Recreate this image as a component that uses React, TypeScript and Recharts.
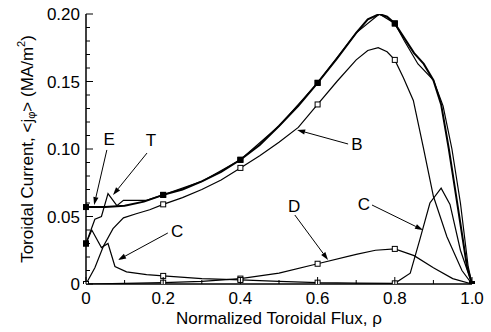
import React from "react";
import {
  LineChart,
  Line,
  XAxis,
  YAxis,
  ReferenceLine,
  ReferenceDot,
} from "recharts";

// normalized toroidal flux (rho) vs current density, one array per curve
const totalE = [
  { x: 0, y: 0.057 }, { x: 0.05, y: 0.057 }, { x: 0.1, y: 0.058 }, { x: 0.15, y: 0.061 },
  { x: 0.2, y: 0.066 }, { x: 0.25, y: 0.07 }, { x: 0.3, y: 0.076 }, { x: 0.35, y: 0.083 },
  { x: 0.4, y: 0.092 }, { x: 0.45, y: 0.103 }, { x: 0.5, y: 0.117 }, { x: 0.55, y: 0.132 },
  { x: 0.6, y: 0.149 }, { x: 0.65, y: 0.167 }, { x: 0.7, y: 0.186 }, { x: 0.73, y: 0.196 },
  { x: 0.76, y: 0.2 }, { x: 0.78, y: 0.198 }, { x: 0.8, y: 0.193 }, { x: 0.85, y: 0.171 },
  { x: 0.875, y: 0.163 }, { x: 0.9, y: 0.151 }, { x: 0.92, y: 0.133 }, { x: 0.94, y: 0.1 },
  { x: 0.96, y: 0.063 }, { x: 0.987, y: 0.013 }, { x: 1, y: 0 },
];

const totalT = [
  { x: 0, y: 0.03 }, { x: 0.023, y: 0.048 }, { x: 0.04, y: 0.05 }, { x: 0.057, y: 0.067 },
  { x: 0.08, y: 0.058 }, { x: 0.097, y: 0.062 }, { x: 0.157, y: 0.062 }, { x: 0.2, y: 0.066 },
  { x: 0.3, y: 0.076 }, { x: 0.4, y: 0.092 }, { x: 0.5, y: 0.117 }, { x: 0.6, y: 0.149 },
  { x: 0.7, y: 0.186 }, { x: 0.76, y: 0.2 }, { x: 0.8, y: 0.193 }, { x: 0.825, y: 0.18 },
  { x: 0.86, y: 0.163 }, { x: 0.9, y: 0.151 }, { x: 0.925, y: 0.132 }, { x: 0.948, y: 0.1 },
  { x: 0.97, y: 0.06 }, { x: 0.99, y: 0.013 }, { x: 1, y: 0 },
];

const bootstrapB = [
  { x: 0, y: 0 }, { x: 0.023, y: 0.012 }, { x: 0.045, y: 0.028 }, { x: 0.07, y: 0.041 },
  { x: 0.097, y: 0.049 }, { x: 0.13, y: 0.052 }, { x: 0.165, y: 0.055 }, { x: 0.2, y: 0.059 },
  { x: 0.25, y: 0.064 }, { x: 0.3, y: 0.07 }, { x: 0.35, y: 0.077 }, { x: 0.4, y: 0.086 },
  { x: 0.45, y: 0.095 }, { x: 0.5, y: 0.105 }, { x: 0.55, y: 0.116 }, { x: 0.6, y: 0.133 },
  { x: 0.65, y: 0.15 }, { x: 0.7, y: 0.166 }, { x: 0.73, y: 0.173 }, { x: 0.757, y: 0.175 },
  { x: 0.78, y: 0.172 }, { x: 0.8, y: 0.166 }, { x: 0.822, y: 0.153 }, { x: 0.848, y: 0.136 },
  { x: 0.874, y: 0.101 }, { x: 0.9, y: 0.065 }, { x: 0.935, y: 0.035 }, { x: 0.974, y: 0.01 },
  { x: 1, y: 0 },
];

const curveC = [
  { x: 0, y: 0.03 }, { x: 0.015, y: 0.04 }, { x: 0.04, y: 0.027 }, { x: 0.057, y: 0.03 },
  { x: 0.075, y: 0.013 }, { x: 0.105, y: 0.009 }, { x: 0.157, y: 0.007 }, { x: 0.2, y: 0.006 },
  { x: 0.3, y: 0.004 }, { x: 0.4, y: 0.003 }, { x: 0.5, y: 0.002 }, { x: 0.6, y: 0.001 },
  { x: 0.7, y: 0.0007 }, { x: 0.8, y: 0.0005 }, { x: 0.84, y: 0.008 }, { x: 0.865, y: 0.033 },
  { x: 0.891, y: 0.06 }, { x: 0.92, y: 0.071 }, { x: 0.943, y: 0.059 }, { x: 0.97, y: 0.025 },
  { x: 1, y: 0 },
];

const curveD = [
  { x: 0, y: 0 }, { x: 0.1, y: 0.0005 }, { x: 0.2, y: 0.001 }, { x: 0.3, y: 0.002 },
  { x: 0.4, y: 0.004 }, { x: 0.5, y: 0.008 }, { x: 0.6, y: 0.015 }, { x: 0.7, y: 0.022 },
  { x: 0.75, y: 0.025 }, { x: 0.8, y: 0.026 }, { x: 0.85, y: 0.021 }, { x: 0.9, y: 0.012 },
  { x: 0.95, y: 0.004 }, { x: 1, y: 0 },
];

const markerX = [0, 0.2, 0.4, 0.6, 0.8, 1];

const xTicks = [0, 0.1, 0.2, 0.3, 0.4, 0.5, 0.6, 0.7, 0.8, 0.9, 1];
const xMajor = [0, 0.2, 0.4, 0.6, 0.8, 1];
const xLabels = ["0", "0.2", "0.4", "0.6", "0.8", "1.0"];

const yTicks = [
  0, 0.01, 0.02, 0.03, 0.04, 0.05, 0.06, 0.07, 0.08, 0.09, 0.1,
  0.11, 0.12, 0.13, 0.14, 0.15, 0.16, 0.17, 0.18, 0.19, 0.2,
];
const yMajor = [0, 0.05, 0.1, 0.15, 0.2];
const yLabels = ["0", "0.05", "0.10", "0.15", "0.20"];

// annotations: label position, arrow start, arrow tip (data units)
const notes = [
  { text: "E", lx: 0.06, ly: 0.1074, x1: 0.054, y1: 0.0993, x2: 0.021, y2: 0.0585 },
  { text: "T", lx: 0.168, ly: 0.1067, x1: 0.158, y1: 0.097, x2: 0.07, y2: 0.0659 },
  { text: "B", lx: 0.702, ly: 0.1037, x1: 0.679, y1: 0.1037, x2: 0.547, y2: 0.1141 },
  { text: "C", lx: 0.236, ly: 0.0393, x1: 0.212, y1: 0.0378, x2: 0.083, y2: 0.0178 },
  { text: "D", lx: 0.539, ly: 0.0578, x1: 0.541, y1: 0.0511, x2: 0.627, y2: 0.0178 },
  { text: "C", lx: 0.72, ly: 0.0593, x1: 0.741, y1: 0.0585, x2: 0.873, y2: 0.04 },
];

const FONT = "'Liberation Sans', Arial, Helvetica, sans-serif";

const near = (a: number, b: number) => Math.abs(a - b) < 1e-6;

function labelOf(v: number, majors: number[], labels: string[]) {
  const i = majors.findIndex((m) => near(m, v));
  return i >= 0 ? labels[i] : null;
}

function BottomTick(props: any) {
  const { x, y, payload } = props;
  const lab = labelOf(payload.value, xMajor, xLabels);
  const len = lab ? 7 : 4;
  return (
    <g>
      <line x1={x} y1={y} x2={x} y2={y - len} stroke="#000" strokeWidth={1} />
      {lab && (
        <text x={x} y={y + 20} textAnchor="middle" fontSize={17} fontFamily={FONT} fill="#000">
          {lab}
        </text>
      )}
    </g>
  );
}

function TopTick(props: any) {
  const { x, y, payload } = props;
  const lab = labelOf(payload.value, xMajor, xLabels);
  const len = lab ? 7 : 4;
  return <line x1={x} y1={y} x2={x} y2={y + len} stroke="#000" strokeWidth={1} />;
}

function LeftTick(props: any) {
  const { x, y, payload } = props;
  const lab = labelOf(payload.value, yMajor, yLabels);
  const len = lab ? 7 : 4;
  return (
    <g>
      <line x1={x} y1={y} x2={x + len} y2={y} stroke="#000" strokeWidth={1} />
      {lab && (
        <text x={x - 6} y={y + 6} textAnchor="end" fontSize={17} fontFamily={FONT} fill="#000">
          {lab}
        </text>
      )}
    </g>
  );
}

function RightTick(props: any) {
  const { x, y, payload } = props;
  const lab = labelOf(payload.value, yMajor, yLabels);
  const len = lab ? 7 : 4;
  return <line x1={x} y1={y} x2={x - len} y2={y} stroke="#000" strokeWidth={1} />;
}

function squareDot(filled: boolean) {
  return (props: any) => {
    const { cx, cy, payload, index } = props;
    if (cx == null || cy == null || !markerX.some((m) => near(m, payload.x))) {
      return <g key={`d${index}`} />;
    }
    return (
      <rect
        key={`d${index}`}
        x={cx - 2.5}
        y={cy - 2.5}
        width={5}
        height={5}
        fill={filled ? "#000" : "#fff"}
        stroke="#000"
        strokeWidth={1}
      />
    );
  };
}

function ArrowShape(props: any) {
  const { x1, y1, x2, y2 } = props;
  const ang = Math.atan2(y2 - y1, x2 - x1);
  const hl = 8;
  const hw = 2.6;
  const bx = x2 - hl * Math.cos(ang);
  const by = y2 - hl * Math.sin(ang);
  const px = -Math.sin(ang) * hw;
  const py = Math.cos(ang) * hw;
  return (
    <g>
      <line x1={x1} y1={y1} x2={bx} y2={by} stroke="#000" strokeWidth={1} />
      <polygon
        points={`${x2},${y2} ${bx + px},${by + py} ${bx - px},${by - py}`}
        fill="#000"
      />
    </g>
  );
}

function YTitle() {
  const cx = 27;
  const cy = 149;
  return (
    <text
      x={cx}
      y={cy}
      transform={`rotate(-90, ${cx}, ${cy})`}
      textAnchor="middle"
      dominantBaseline="central"
      fontSize={17}
      fontFamily={FONT}
      fill="#000"
    >
      Toroidal Current, &lt;j
      <tspan dy={4} fontSize={11}>φ</tspan>
      <tspan dy={-4}>&gt; (MA/m</tspan>
      <tspan dy={-6} fontSize={11}>2</tspan>
      <tspan dy={6}>)</tspan>
    </text>
  );
}

function XTitle() {
  return (
    <text x={279} y={324} textAnchor="middle" fontSize={17} fontFamily={FONT} fill="#000">
      Normalized Toroidal Flux, ρ
    </text>
  );
}

export default function App() {
  return (
    <div style={{ position: "fixed", left: 0, top: 0, background: "#fff" }}>
      <LineChart
        width={491}
        height={332}
        margin={{ top: 14, right: 19, bottom: 18, left: 26 }}
      >
        <XAxis
          type="number"
          dataKey="x"
          domain={[0, 1]}
          ticks={xTicks}
          interval={0}
          height={30}
          tickSize={0}
          tickMargin={0}
          tickLine={false}
          axisLine={{ stroke: "#000", strokeWidth: 1.5 }}
          tick={<BottomTick />}
          label={<XTitle />}
        />
        <XAxis
          xAxisId="top"
          orientation="top"
          type="number"
          dataKey="x"
          domain={[0, 1]}
          ticks={xTicks}
          interval={0}
          height={0}
          tickSize={0}
          tickMargin={0}
          tickLine={false}
          axisLine={{ stroke: "#000", strokeWidth: 1.5 }}
          tick={<TopTick />}
        />
        <YAxis
          type="number"
          domain={[0, 0.2]}
          ticks={yTicks}
          interval={0}
          width={60}
          tickSize={0}
          tickMargin={0}
          tickLine={false}
          axisLine={{ stroke: "#000", strokeWidth: 1.5 }}
          tick={<LeftTick />}
          label={<YTitle />}
          allowDataOverflow
        />
        <YAxis
          yAxisId="right"
          orientation="right"
          type="number"
          domain={[0, 0.2]}
          ticks={yTicks}
          interval={0}
          width={0}
          tickSize={0}
          tickMargin={0}
          tickLine={false}
          axisLine={{ stroke: "#000", strokeWidth: 1.5 }}
          tick={<RightTick />}
        />

        <Line data={curveD} dataKey="y" type="linear" stroke="#000" strokeWidth={1.2}
          dot={squareDot(false)} isAnimationActive={false} />
        <Line data={curveC} dataKey="y" type="linear" stroke="#000" strokeWidth={1.2}
          dot={squareDot(false)} isAnimationActive={false} />
        <Line data={bootstrapB} dataKey="y" type="linear" stroke="#000" strokeWidth={1.2}
          dot={squareDot(false)} isAnimationActive={false} />
        <Line data={totalT} dataKey="y" type="linear" stroke="#000" strokeWidth={1.2}
          dot={squareDot(true)} isAnimationActive={false} />
        <Line data={totalE} dataKey="y" type="linear" stroke="#000" strokeWidth={2}
          dot={squareDot(true)} isAnimationActive={false} />

        {notes.map((n, i) => (
          <ReferenceLine
            key={`a${i}`}
            segment={[{ x: n.x1, y: n.y1 }, { x: n.x2, y: n.y2 }]}
            shape={(p: any) => <ArrowShape {...p} />}
          />
        ))}
        {notes.map((n, i) => (
          <ReferenceDot
            key={`t${i}`}
            x={n.lx}
            y={n.ly}
            r={0}
            shape={(p: any) => (
              <text x={p.cx} y={p.cy + 6} textAnchor="middle" fontSize={17}
                fontFamily={FONT} fill="#000">
                {n.text}
              </text>
            )}
          />
        ))}
      </LineChart>
    </div>
  );
}
